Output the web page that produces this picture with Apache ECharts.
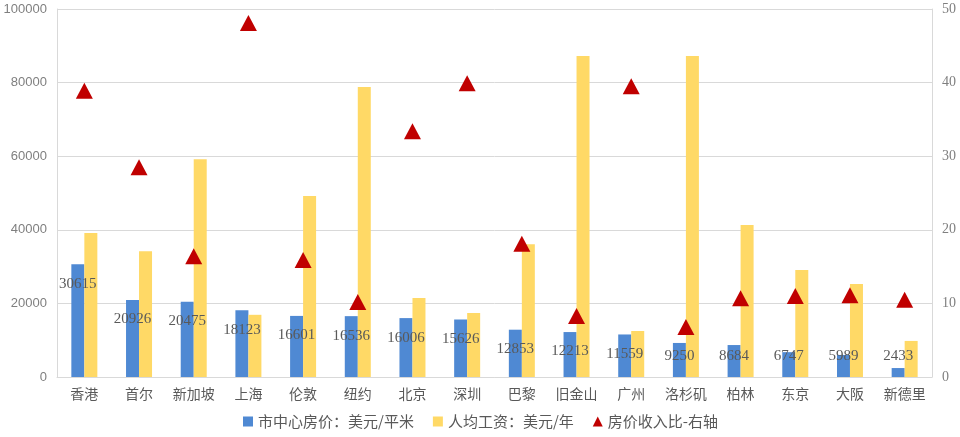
<!DOCTYPE html>
<html><head><meta charset="utf-8">
<script src="https://cdn.jsdelivr.net/npm/echarts@6/dist/echarts.min.js"></script>
<style>html,body{margin:0;padding:0;background:#fff}#c{width:960px;height:437px}</style>
</head><body><div id="c"></div>
<script>
var categories = ['香港','首尔','新加坡','上海','伦敦','纽约','北京','深圳','巴黎','旧金山','广州','洛杉矶','柏林','东京','大阪','新德里'];
var housePrice = [30615,20926,20475,18123,16601,16536,16006,15626,12853,12213,11559,9250,8684,6747,5989,2433];
var salary = [39100,34200,59200,16900,49200,78800,21500,17400,36100,87200,12500,87200,41300,29100,25300,9800];
var ratio = [38.9,28.5,16.4,48.1,15.9,10.2,33.4,39.9,18.1,8.3,39.5,6.8,10.7,11.0,11.1,10.5];
var leftTicks = {min:0,max:100000,interval:20000};
var rightTicks = {min:0,max:50,interval:10};

var chart = echarts.init(document.getElementById('c'), null, {renderer:'canvas'});
var CJK = '"Noto Sans CJK SC", sans-serif';
var SERIF = '"Liberation Serif", "DejaVu Serif", serif';
var blueData = housePrice.map(function(v){
  return {value:v, label:{position: v > 11000 ? 'insideTop' : 'insideBottom', distance: v > 11000 ? 12 : 13}};
});
chart.setOption({
  animation:false,
  grid:{left:57,right:28,top:9,bottom:60,containLabel:false},
  legend:{
    bottom:3,left:238,itemGap:19,itemWidth:10,itemHeight:10,
    textStyle:{fontFamily:CJK,fontSize:15,color:'#595959'},
    data:[{name:'市中心房价：美元/平米',icon:'rect'},{name:'人均工资：美元/年',icon:'rect'},
          {name:'房价收入比-右轴',icon:'triangle',itemStyle:{opacity:1}}]
  },
  xAxis:{type:'category',data:categories,
    axisLine:{lineStyle:{color:'#d9d9d9'}},axisTick:{show:false},
    axisLabel:{fontFamily:CJK,fontSize:14,color:'#595959',margin:10,interval:0}},
  yAxis:[
    {type:'value',min:leftTicks.min,max:leftTicks.max,interval:leftTicks.interval,
     axisLine:{show:true,lineStyle:{color:'#d9d9d9'}},axisTick:{show:false},
     splitLine:{lineStyle:{color:'#d9d9d9'}},
     axisLabel:{fontFamily:'"Liberation Sans", sans-serif',fontSize:13,color:'#7f7f7f',margin:10,
       formatter:function(v){return String(v);}}},
    {type:'value',min:rightTicks.min,max:rightTicks.max,interval:rightTicks.interval,position:'right',
     axisLine:{show:true,lineStyle:{color:'#d9d9d9'}},axisTick:{show:false},splitLine:{show:false},
     axisLabel:{fontFamily:SERIF,fontSize:14,color:'#7f7f7f',margin:10}}
  ],
  series:[
    {name:'市中心房价：美元/平米',type:'bar',data:blueData,barWidth:13,barGap:'0%',
     itemStyle:{color:'#4f89d3'},
     label:{show:true,fontFamily:SERIF,fontSize:15,color:'#595959'}},
    {name:'人均工资：美元/年',type:'bar',data:salary,barWidth:13,barGap:'0%',
     itemStyle:{color:'#ffd966'}},
    {name:'房价收入比-右轴',type:'scatter',yAxisIndex:1,data:ratio,symbol:'triangle',symbolSize:[17,16],
     itemStyle:{color:'#c00000',opacity:1},z:5}
  ]
});
</script></body></html>
